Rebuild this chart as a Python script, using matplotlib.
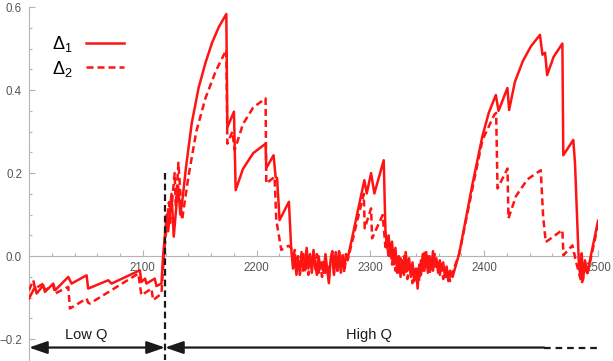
import matplotlib
matplotlib.use("Agg")
import matplotlib.pyplot as plt
from matplotlib.ticker import FixedLocator, FuncFormatter

plt.rcParams['font.family'] = ['Liberation Sans', 'DejaVu Sans']
plt.rcParams['mathtext.fontset'] = 'custom'
plt.rcParams['mathtext.rm'] = 'Liberation Sans'
plt.rcParams['mathtext.default'] = 'regular'

# Delta_1 (solid)
d1_x = [2000, 2005.3, 2006.7, 2012.6, 2014, 2021.3, 2023, 2034.5, 2037.4, 2050.6,
        2052, 2069.6, 2072.5, 2097.4, 2098.8, 2102, 2103.2, 2110.5, 2112, 2116.4,
        2117.8, 2121, 2122.3, 2125.2, 2127.2, 2131, 2133, 2135, 2138, 2143,
        2149, 2155, 2161, 2167, 2173.4, 2174.3, 2180.1, 2181.6, 2188, 2197,
        2207.9, 2208.5, 2214.9, 2216.7, 2218, 2220.2, 2228.4, 2230.4,
        2232, 2233.5, 2235, 2236.5, 2238, 2239.5, 2241, 2242.5, 2244, 2245.5,
        2247, 2248.5, 2250, 2251.5, 2253, 2254.5, 2256, 2257.5, 2259, 2260.5,
        2262, 2263.5, 2265, 2266.5, 2268, 2269.5, 2271, 2272.5, 2274, 2275.5,
        2277, 2278.5, 2280.1, 2294.7, 2296.8, 2300.6, 2303.5, 2311.7, 2313.2,
        2314.5, 2316, 2317.5, 2319, 2320.5, 2322, 2323.5, 2325, 2326.5, 2328,
        2329.5, 2331, 2332.5, 2334, 2335.5, 2337, 2338.5, 2340, 2341.5, 2343,
        2344.5, 2346, 2347.5, 2349, 2350.5, 2352, 2353.5, 2355, 2356.5, 2358,
        2359.5, 2361, 2362.5, 2364, 2365.5, 2367, 2368.5, 2370, 2372.2, 2378.1,
        2389.8, 2398.5, 2404, 2410.2, 2412.6, 2420.4, 2421.9, 2427, 2434, 2441,
        2449, 2451.2, 2453.5, 2455.3, 2461, 2468.7, 2469.5, 2478.3, 2479.8, 2483.3,
        2484.8, 2485.7, 2486.8, 2488.6, 2490.6, 2500]
d1_y = [-0.102, -0.074, -0.090, -0.070, -0.086, -0.066, -0.082, -0.050, -0.066, -0.046,
        -0.078, -0.058, -0.066, -0.034, -0.062, -0.054, -0.066, -0.054, -0.072, -0.066,
        0.0, 0.10, 0.06, 0.15, 0.047, 0.17, 0.10, 0.14, 0.215, 0.32,
        0.405, 0.465, 0.515, 0.553, 0.583, 0.31, 0.348, 0.159, 0.21, 0.248,
        0.271, 0.212, 0.243, 0.191, 0.188, 0.087, 0.131, 0.019,
        -0.03, 0.0, -0.045, -0.01, -0.04, 0.01, -0.035, -0.015, 0.02, -0.03,
        0.005, -0.04, 0.015, -0.02, -0.045, 0.0, -0.03, -0.015, -0.04, 0.005,
        -0.03, -0.065, -0.01, 0.012, -0.045, 0.01, -0.035, 0.012, -0.04, 0.0,
        -0.03, 0.005, -0.005, 0.183, 0.151, 0.2, 0.151, 0.231, 0.063,
        0.02, 0.05, 0.0, 0.035, -0.02, 0.02, -0.04, 0.0, -0.05, -0.01,
        -0.045, 0.01, -0.035, -0.005, -0.05, -0.015, -0.06, -0.03, -0.078, -0.02,
        -0.045, 0.005, -0.035, 0.01, -0.04, 0.0, -0.03, 0.012, -0.025, -0.005,
        -0.04, -0.01, -0.035, -0.015, -0.05, -0.025, -0.06, -0.035, -0.05, 0.007,
        0.175, 0.29, 0.345, 0.388, 0.35, 0.405, 0.352, 0.42, 0.47, 0.505,
        0.533, 0.485, 0.49, 0.436, 0.48, 0.512, 0.243, 0.28, 0.223, -0.026,
        -0.05, 0.007, -0.058, -0.01, -0.041, 0.085]

# Delta_2 (dashed)
d2_x = [2000, 2003.8, 2005.3, 2012.6, 2014, 2021.3, 2022.8, 2034.5, 2036, 2050.6,
        2052, 2053.5, 2096, 2098.8, 2107.6, 2109.1, 2116.4, 2118.5, 2120.5, 2123,
        2124, 2128, 2129, 2131.3, 2134.5, 2140, 2147, 2155, 2164, 2173.4,
        2174.3, 2178.7, 2180.7, 2188, 2197, 2207.9, 2208.5, 2215.8, 2217.3, 2221.7,
        2228, 2230.4,
        2232, 2233.5, 2235, 2236.5, 2238, 2239.5, 2241, 2242.5, 2244, 2245.5,
        2247, 2248.5, 2250, 2251.5, 2253, 2254.5, 2256, 2257.5, 2259, 2260.5,
        2262, 2263.5, 2265, 2266.5, 2268, 2269.5, 2271, 2272.5, 2274, 2275.5,
        2277, 2278.5, 2280, 2294.2, 2295, 2300.6, 2301.5, 2310.8, 2313.2,
        2314.5, 2316, 2317.5, 2319, 2320.5, 2322, 2323.5, 2325, 2326.5, 2328,
        2329.5, 2331, 2332.5, 2334, 2335.5, 2337, 2338.5, 2340, 2341.5, 2343,
        2344.5, 2346, 2347.5, 2349, 2350.5, 2352, 2353.5, 2355, 2356.5, 2358,
        2359.5, 2361, 2362.5, 2364, 2365.5, 2367, 2368.5, 2370, 2372, 2378,
        2389.8, 2398.5, 2408.8, 2410.5, 2411.7, 2420.5, 2421.3, 2428, 2438, 2449.7,
        2451.8, 2454.1, 2468.7, 2469.6, 2477.5, 2480.4, 2485.7, 2489.2, 2491, 2500]
d2_y = [-0.082, -0.058, -0.078, -0.066, -0.082, -0.070, -0.090, -0.074, -0.126, -0.102,
        -0.112, -0.114, -0.042, -0.094, -0.078, -0.106, -0.090, 0.0, 0.06, 0.13,
        0.08, 0.20, 0.12, 0.225, 0.087, 0.19, 0.30, 0.38, 0.445, 0.497,
        0.271, 0.30, 0.255, 0.318, 0.358, 0.38, 0.175, 0.191, 0.087, 0.015,
        0.025, 0.02,
        -0.01, 0.015, -0.03, 0.0, -0.045, -0.015, 0.005, -0.04, -0.01, -0.045,
        0.0, -0.025, 0.01, -0.035, 0.005, -0.04, -0.015, -0.05, -0.01, -0.04,
        -0.02, -0.055, -0.01, 0.01, -0.04, 0.0, -0.035, 0.01, -0.03, 0.005,
        -0.04, -0.005, -0.01, 0.15, 0.067, 0.115, 0.043, 0.099, 0.022,
        0.04, -0.005, 0.03, -0.02, 0.015, -0.035, 0.005, -0.045, -0.005, -0.04,
        0.0, -0.03, -0.055, -0.02, -0.035, -0.065, -0.025, -0.05, -0.03, -0.06,
        -0.01, -0.04, 0.008, -0.03, 0.0, -0.045, -0.01, -0.035, 0.005, -0.03,
        -0.01, -0.045, -0.02, -0.055, -0.03, -0.05, -0.035, -0.06, -0.04, 0.005,
        0.165, 0.28, 0.34, 0.345, 0.163, 0.211, 0.091, 0.145, 0.185, 0.207,
        0.095, 0.034, 0.063, 0.002, 0.026, -0.01, -0.066, -0.026, -0.04, 0.075]

x_ticks = [2100, 2200, 2300, 2400, 2500]
y_ticks = [-0.2, 0.0, 0.2, 0.4, 0.6]
q_split = 2119.5      # boundary between low Q and high Q
arrow_y = -0.22
high_dash_from = 2452.6

red = '#ff1414'
ink = '#1a1a1a'
grey = '#b4b4b4'

fig = plt.figure(figsize=(6.13, 3.61), dpi=100)
ax = fig.add_axes([29 / 613, 1 / 361, 569 / 613, 353 / 361])
ax.set_xlim(2000, 2500)
ax.set_ylim(-0.25, 0.6)

ax.plot(d1_x, d1_y, color=red, lw=1.8, label='Δ$_1$', zorder=3)
ax.plot(d2_x, d2_y, color=red, lw=1.8, ls=(0, (2.8, 1.6)), label='Δ$_2$', zorder=3)

for s in ['top', 'right']:
    ax.spines[s].set_visible(False)
ax.spines['bottom'].set_position(('data', 0))
for s in ['left', 'bottom']:
    ax.spines[s].set_color(grey)
    ax.spines[s].set_linewidth(0.8)

ax.xaxis.set_major_locator(FixedLocator(x_ticks))
ax.xaxis.set_minor_locator(FixedLocator([v for v in range(2020, 2500, 20) if v % 100]))
ax.yaxis.set_major_locator(FixedLocator(y_ticks))
ax.yaxis.set_minor_locator(FixedLocator([-0.15, -0.1, -0.05, 0.05, 0.1, 0.15, 0.25, 0.3, 0.35, 0.45, 0.5, 0.55]))
ax.yaxis.set_major_formatter(FuncFormatter(lambda v, p: ('%.1f' % v).replace('-', '\u2212')))
ax.tick_params(which='both', direction='in', color=grey, width=0.8, labelcolor='#555555', labelsize=8.3)
ax.tick_params(which='major', length=4)
ax.tick_params(which='minor', length=2.5)
ax.tick_params(axis='x', pad=4)
ax.tick_params(axis='y', pad=5)

# regime marker and arrows
ax.plot([q_split, q_split], [0.2, -0.25], color=ink, lw=1.6, ls=(0, (3, 1.8)), zorder=4, clip_on=False)
astyle = dict(color=ink, lw=1.6, shrinkA=0, shrinkB=0, mutation_scale=10)
ax.annotate('', xy=(2000, arrow_y), xytext=(q_split, arrow_y),
            arrowprops=dict(arrowstyle='<|-|>,head_length=1.1,head_width=0.38', **astyle))
ax.annotate('', xy=(q_split, arrow_y), xytext=(high_dash_from, arrow_y),
            arrowprops=dict(arrowstyle='-|>,head_length=1.1,head_width=0.38', **astyle))
ax.plot([high_dash_from, 2500], [arrow_y, arrow_y], color=ink, lw=1.6, ls=(0, (3, 2.2)), clip_on=False)
ax.text(2050, -0.19, 'Low Q', ha='center', va='center', fontsize=10.5, color=ink)
ax.text(2299, -0.19, 'High Q', ha='center', va='center', fontsize=10.5, color=ink)

ax.legend(loc='upper left', bbox_to_anchor=(52 / 613, 1 - 34 / 361), bbox_transform=fig.transFigure,
          frameon=False, markerfirst=False, fontsize=13, handlelength=2.1,
          handletextpad=0.75, labelspacing=0.25, borderpad=0, borderaxespad=0)

fig.savefig('out.png', dpi=100)
